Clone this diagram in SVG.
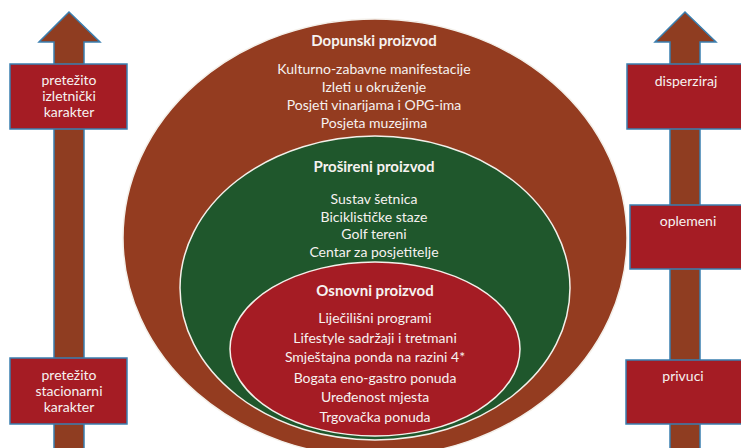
<svg xmlns="http://www.w3.org/2000/svg" width="741" height="448" viewBox="0 0 741 448">
<style>
.arrow{fill:#8f3d21;stroke:#3a7fb0;stroke-width:1.5}
.box{fill:#a51c24;stroke:#3a7fb0;stroke-width:1.5}
.ell{stroke:#f4f0ea;stroke-width:1.5}
text{font-family:Lato,"Open Sans",sans-serif;fill:#f6f2f0;text-anchor:middle}
.t{font-size:14px}
.h{font-size:15px;font-weight:bold}
.b{font-size:14px}
</style>
<rect width="741" height="448" fill="#ffffff"/>
<g id="left-arrow">
<polygon class="arrow" points="69,12 100,42 84,42 84,452 54,452 54,42 39,42"/>
</g>
<g id="right-arrow">
<polygon class="arrow" points="685,12 716,42 700,42 700,452 670,452 670,42 655,42"/>
</g>
<g id="dopunski">
<ellipse class="ell" cx="375" cy="238" rx="252" ry="219" fill="#943c20"/>
<text class="h" x="374" y="46">Dopunski proizvod</text>
<text class="t" x="374" y="74">Kulturno-zabavne manifestacije</text>
<text class="t" x="374" y="92">Izleti u okruženje</text>
<text class="t" x="374" y="110">Posjeti vinarijama i OPG-ima</text>
<text class="t" x="374" y="128">Posjeta muzejima</text>
</g>
<g id="prosireni">
<ellipse class="ell" cx="375" cy="288" rx="195" ry="152" fill="#1f572c"/>
<text class="h" x="374" y="172">Prošireni proizvod</text>
<text class="t" x="374" y="204">Sustav šetnica</text>
<text class="t" x="374" y="222">Biciklističke staze</text>
<text class="t" x="374" y="239">Golf tereni</text>
<text class="t" x="374" y="257">Centar za posjetitelje</text>
</g>
<g id="osnovni">
<ellipse class="ell" cx="375" cy="349" rx="145" ry="87" fill="#a51c24"/>
<text class="h" x="375" y="296">Osnovni proizvod</text>
<text class="t" x="375" y="323">Liječilišni programi</text>
<text class="t" x="375" y="343">Lifestyle sadržaji i tretmani</text>
<text class="t" x="375" y="362">Smještajna ponda na razini 4*</text>
<text class="t" x="375" y="383">Bogata eno-gastro ponuda</text>
<text class="t" x="375" y="402">Uređenost mjesta</text>
<text class="t" x="375" y="422">Trgovačka ponuda</text>
</g>
<g id="box-izletnicki">
<rect class="box" x="10" y="64" width="117" height="65"/>
<text class="b" x="69" y="85">pretežito</text>
<text class="b" x="69" y="101">izletnički</text>
<text class="b" x="69" y="117">karakter</text>
</g>
<g id="box-stacionarni">
<rect class="box" x="10" y="358" width="117" height="66"/>
<text class="b" x="69" y="380">pretežito</text>
<text class="b" x="69" y="396">stacionarni</text>
<text class="b" x="69" y="412">karakter</text>
</g>
<g id="box-disperziraj">
<rect class="box" x="627" y="64" width="120" height="65"/>
<text class="b" x="686" y="86">disperziraj</text>
</g>
<g id="box-oplemeni">
<rect class="box" x="630" y="205" width="120" height="64"/>
<text class="b" x="688" y="226">oplemeni</text>
</g>
<g id="box-privuci">
<rect class="box" x="626" y="360" width="120" height="64"/>
<text class="b" x="683" y="381">privuci</text>
</g>
<g id="connectors"></g>
</svg>
